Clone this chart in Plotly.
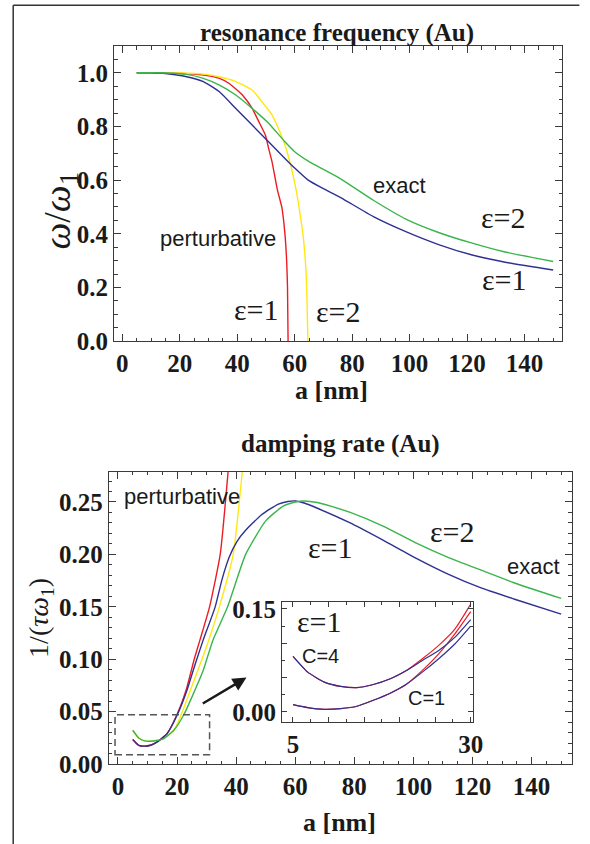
import plotly.graph_objects as go

# ---------------- data: resonance frequency (top) ----------------
a_exact_top = [5, 10, 15, 22.4, 28.2, 33.8, 39.5, 45.2, 50.9, 56.6, 60, 64.6, 70, 76, 87.4, 98.7, 110.1, 121.5, 132.9, 150]
w_exact_eps1 = [1.0, 1.0, 0.997, 0.985, 0.967, 0.929, 0.867, 0.805, 0.743, 0.681, 0.645, 0.601, 0.568, 0.535, 0.464, 0.408, 0.360, 0.322, 0.295, 0.265]
w_exact_eps2 = [1.0, 1.0, 0.999, 0.994, 0.979, 0.954, 0.917, 0.867, 0.812, 0.743, 0.706, 0.672, 0.640, 0.605, 0.525, 0.455, 0.405, 0.366, 0.333, 0.297]

a_pert_eps1_top = [5, 10, 20, 28.2, 33.8, 37.2, 41.8, 45.2, 47.5, 49.8, 50.9, 52.1, 53.2, 54.1, 55.5, 56.6, 57.2, 57.5, 57.7]
w_pert_eps1 = [1.0, 1.0, 0.998, 0.991, 0.979, 0.960, 0.917, 0.867, 0.818, 0.768, 0.719, 0.669, 0.607, 0.558, 0.50, 0.40, 0.30, 0.20, 0.0]

a_pert_eps2_top = [5, 10, 20, 28.2, 33.8, 39.5, 45.2, 48.6, 52.1, 54.3, 56.6, 58.3, 59.4, 60.6, 61.2, 62.9, 64.0, 64.3, 64.6]
w_pert_eps2 = [1.0, 1.0, 0.999, 0.995, 0.985, 0.967, 0.936, 0.892, 0.843, 0.793, 0.731, 0.669, 0.620, 0.558, 0.52, 0.397, 0.248, 0.15, 0.0]

# ---------------- data: damping rate (bottom) ----------------
a_exact_eps1_bot = [5, 7, 9, 11, 13.3, 16.6, 20, 23.3, 26.2, 28.8, 32.9, 35.2, 37.6, 40.2, 43.2, 48.7, 54.3, 57.5, 60, 63, 67.5, 78.6, 89.7, 100.8, 111.9, 122.9, 134, 150]
g_exact_eps1 = [0.0235, 0.018, 0.0172, 0.018, 0.0212, 0.029, 0.0466, 0.070, 0.096, 0.118, 0.15, 0.176, 0.197, 0.212, 0.223, 0.238, 0.248, 0.2505, 0.251, 0.249, 0.244, 0.230, 0.2136, 0.1965, 0.181, 0.168, 0.1575, 0.143]

a_exact_eps2_bot = [5, 7, 9, 11, 13, 15.5, 18.9, 22.2, 25.5, 28.8, 32.1, 37.1, 43.2, 50, 55.9, 60, 63, 67.5, 72, 78.6, 89.7, 100.8, 111.9, 122.9, 134, 150]
g_exact_eps2 = [0.0323, 0.025, 0.0222, 0.0219, 0.0225, 0.0244, 0.0323, 0.0466, 0.067, 0.089, 0.118, 0.15, 0.20, 0.232, 0.246, 0.250, 0.251, 0.2495, 0.246, 0.240, 0.227, 0.211, 0.197, 0.185, 0.173, 0.158]

a_pert_eps1_bot = [5, 7, 9, 11, 13.3, 16.6, 20, 23.3, 25.8, 27.7, 31.0, 34.6, 37.3]
g_pert_eps1 = [0.0235, 0.018, 0.0172, 0.018, 0.0212, 0.029, 0.0475, 0.073, 0.10, 0.118, 0.15, 0.20, 0.28]

a_pert_eps2_bot = [5, 7, 9, 11, 13, 15.5, 18.9, 21.1, 24.9, 29.9, 34.3, 39.0, 42.1]
g_pert_eps2 = [0.0323, 0.025, 0.0222, 0.0219, 0.0225, 0.0244, 0.0323, 0.045, 0.0735, 0.1115, 0.15, 0.20, 0.28]

# ---------------- data: inset (eps=1, C=1 and C=4) ----------------
a_inset = [5, 7.07, 9.4, 11.7, 14, 16.3, 18.6, 20.9, 23.2, 25.5, 27.8, 30]
g_C4_pert = [0.081, 0.058, 0.0435, 0.0373, 0.0354, 0.040, 0.048, 0.060, 0.0775, 0.097, 0.121, 0.157]
g_C4_exact = [0.081, 0.058, 0.0435, 0.0373, 0.0354, 0.040, 0.048, 0.060, 0.075, 0.0896, 0.109, 0.1345]
g_C1_pert = [0.0107, 0.0064, 0.0039, 0.0049, 0.0083, 0.017, 0.027, 0.040, 0.0605, 0.0847, 0.114, 0.146]
g_C1_exact = [0.0107, 0.0064, 0.0039, 0.0049, 0.0083, 0.017, 0.027, 0.040, 0.058, 0.0775, 0.0993, 0.125]

top_xticks = [0, 20, 40, 60, 80, 100, 120, 140]
top_yticks = [0.0, 0.2, 0.4, 0.6, 0.8, 1.0]
bot_yticks = [0.0, 0.05, 0.10, 0.15, 0.20, 0.25]
inset_xticks = [5, 10, 15, 20, 25, 30]
inset_xlabels = ["5", "", "", "", "", "30"]
inset_yticks = [0.0, 0.05, 0.10, 0.15]
inset_ylabels = ["0.00", "", "", "0.15"]

RED = "#ec1c24"
YEL = "#ffe812"
BLUE = "#2e3192"
GREEN = "#39b54a"
AX = "#3a3a3a"
SERIF = "Liberation Serif"
SANS = "Liberation Sans"

W, H = 590, 844
ML, MR, MT, MB = 8, 7.5, 12, 22
PW, PH = W - ML - MR, H - MT - MB

def fx(xp):
    return (xp - ML) / PW

def fy(yp):
    return 1 - (yp - MT) / PH

def clamp(v):
    return min(1.0, max(0.0, v))

def dom_x(p0, p1):
    return [clamp(fx(p0)), clamp(fx(p1))]

def dom_y(top, bottom):
    return [clamp(fy(bottom)), clamp(fy(top))]

fig = go.Figure()

def add(x, y, color, xa, ya, w=1.4):
    fig.add_trace(go.Scatter(x=x, y=y, mode="lines", xaxis=xa, yaxis=ya,
                             line=dict(color=color, width=w, shape="spline", smoothing=0.5),
                             showlegend=False, hoverinfo="skip"))

# top
add(a_pert_eps1_top, w_pert_eps1, RED, "x", "y")
add(a_pert_eps2_top, w_pert_eps2, YEL, "x", "y")
add(a_exact_top, w_exact_eps1, BLUE, "x", "y")
add(a_exact_top, w_exact_eps2, GREEN, "x", "y")
# bottom
add(a_pert_eps1_bot, g_pert_eps1, RED, "x2", "y2")
add(a_pert_eps2_bot, g_pert_eps2, YEL, "x2", "y2")
add(a_exact_eps1_bot, g_exact_eps1, BLUE, "x2", "y2")
add(a_exact_eps2_bot, g_exact_eps2, GREEN, "x2", "y2")
# inset
add(a_inset, g_C4_pert, RED, "x3", "y3", 1.2)
add(a_inset, g_C1_pert, RED, "x3", "y3", 1.2)
add(a_inset, g_C4_exact, BLUE, "x3", "y3", 1.2)
add(a_inset, g_C1_exact, BLUE, "x3", "y3", 1.2)

tickfont = dict(family=SERIF, size=25, color="#1a1a1a", weight="bold")

def axis_common(**kw):
    d = dict(showline=True, linecolor=AX, linewidth=1.2, mirror="allticks",
             ticks="inside", ticklen=7, tickwidth=1, tickcolor=AX,
             showgrid=False, zeroline=False, tickfont=tickfont)
    d.update(kw)
    return d

fig.update_layout(
    width=W, height=H, margin=dict(l=ML, r=MR, t=MT, b=MB),
    paper_bgcolor="white", plot_bgcolor="white", showlegend=False,
    xaxis=axis_common(domain=dom_x(116, 572.7), range=[-2.9, 153.2], anchor="y",
                      tickvals=top_xticks, minor=dict(ticks="inside", dtick=5, ticklen=3.5, tickcolor=AX)),
    yaxis=axis_common(domain=dom_y(44, 340), range=[0, 1.1], anchor="x",
                      tickvals=top_yticks, tickformat=".1f",
                      minor=dict(ticks="inside", dtick=0.05, ticklen=3.5, tickcolor=AX)),
    xaxis2=axis_common(domain=dom_x(110.7, 582.3), range=[-3.1, 153.6], anchor="y2",
                       tickvals=top_xticks, minor=dict(ticks="inside", dtick=5, ticklen=3.5, tickcolor=AX)),
    yaxis2=axis_common(domain=dom_y(470.7, 764), range=[0, 0.279], anchor="x2",
                       tickvals=bot_yticks, tickformat=".2f",
                       minor=dict(ticks="inside", dtick=0.01, ticklen=3.5, tickcolor=AX)),
    xaxis3=axis_common(domain=dom_x(287.3, 481.7), range=[3.48, 30.33], anchor="y3",
                       tickvals=inset_xticks, ticktext=inset_xlabels, ticklen=5,
                       minor=dict(ticks="inside", dtick=2.5, ticklen=3, tickcolor=AX)),
    yaxis3=axis_common(domain=dom_y(601.7, 721.7), range=[-0.0145, 0.1597], anchor="x3",
                       tickvals=inset_yticks, ticktext=inset_ylabels, ticklen=5,
                       minor=dict(ticks="inside", dtick=0.025, ticklen=3, tickcolor=AX)),
)

# inset white background
fig.add_shape(type="rect", xref="x3 domain", yref="y3 domain", x0=0, x1=1, y0=0, y1=1,
              fillcolor="white", line=dict(width=0), layer="below")

# dashed zoom box and arrow in bottom panel
fig.add_shape(type="rect", xref="x2", yref="y2", x0=-1, x1=31, y0=0.009, y1=0.047,
              line=dict(color="#555555", width=1.5, dash="7px,4px"))
fig.add_annotation(xref="x2", yref="y2", axref="x2", ayref="y2",
                   x=43.5, y=0.0826, ax=28.2, ay=0.057, text="", showarrow=True,
                   arrowhead=2, arrowsize=1.1, arrowwidth=2.5, arrowcolor="#1a1a1a")

# page frame (left and top)
fig.add_shape(type="line", xref="paper", yref="paper", x0=fx(13.3), x1=fx(13.3), y0=fy(H), y1=fy(3.3),
              line=dict(color="#333333", width=1.5))
fig.add_shape(type="line", xref="paper", yref="paper", x0=fx(13.3), x1=fx(W), y0=fy(3.3), y1=fy(3.3),
              line=dict(color="#333333", width=1.5))

def txt(x, y, s, size, family=SERIF, xref="paper", yref="paper", bold=False, angle=0, color="#1a1a1a"):
    fig.add_annotation(x=x, y=y, xref=xref, yref=yref, text=s, showarrow=False,
                       textangle=angle, xanchor="center", yanchor="middle",
                       font=dict(family=family, size=size, color=color, weight="bold" if bold else "normal"))

def px(xp, yp):
    return fx(xp), fy(yp)

# titles
txt(*px(343.3, 31), "resonance frequency (Au)", 25, bold=True)
txt(*px(346.7, 443), "damping rate (Au)", 25, bold=True)
txt(*px(337.5, 389), "a [nm]", 26, bold=True)
txt(*px(345.7, 822), "a [nm]", 26, bold=True)
txt(*px(60, 209), "<i>ω</i>/<i>ω</i><sub>1</sub>", 38, angle=-90)
txt(*px(41, 617), "1/(<i>τω</i><sub>1</sub>)", 28, angle=-90)

# labels top panel
txt(33.2, 0.383, "perturbative", 22, family=SANS, xref="x", yref="y")
txt(46.8, 0.119, "ε=1", 30, xref="x", yref="y")
txt(75.4, 0.112, "ε=2", 30, xref="x", yref="y")
txt(96.6, 0.58, "exact", 22, family=SANS, xref="x", yref="y")
txt(132.8, 0.461, "ε=2", 30, xref="x", yref="y")
txt(133.1, 0.23, "ε=1", 30, xref="x", yref="y")

# labels bottom panel
txt(21.8, 0.2548, "perturbative", 22, family=SANS, xref="x2", yref="y2")
txt(71.8, 0.207, "ε=1", 30, xref="x2", yref="y2")
txt(113.3, 0.222, "ε=2", 30, xref="x2", yref="y2")
txt(140.7, 0.188, "exact", 22, family=SANS, xref="x2", yref="y2")

# inset labels
txt(8.76, 0.1316, "ε=1", 30, xref="x3", yref="y3")
txt(8.9, 0.0808, "C=4", 20, family=SANS, xref="x3", yref="y3")
txt(23.8, 0.0199, "C=1", 20, family=SANS, xref="x3", yref="y3")

fig.write_html("out.html", config={"displayModeBar": False},
               post_script="document.body.style.margin='0px';")
